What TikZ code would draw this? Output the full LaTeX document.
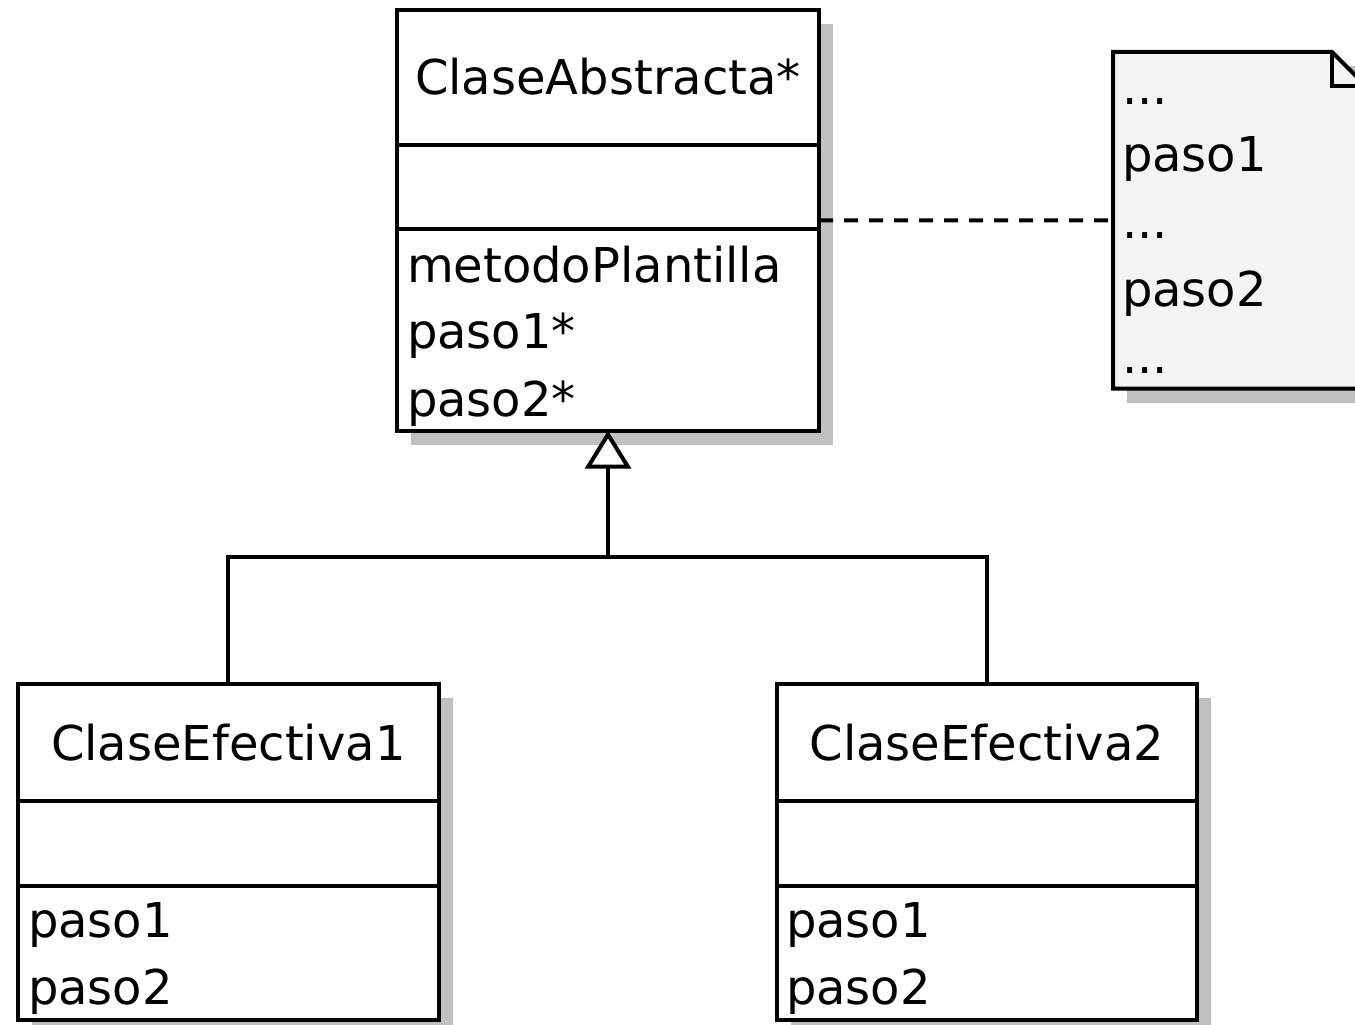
\documentclass[tikz,border=0pt]{standalone}
\usepackage{fontspec}
\setmainfont{DejaVu Sans}
\usetikzlibrary{arrows.meta,shadows}
\definecolor{shadowgray}{HTML}{C0C0C0}
\definecolor{notefill}{HTML}{F4F4F4}
\begin{document}
\begin{tikzpicture}[x=1pt,y=-1pt,
  classbox/.style={draw=black,line width=4pt,fill=white,inner sep=0pt,outer sep=0pt,rectangle,
     drop shadow={shadow xshift=14pt,shadow yshift=-14pt,fill=shadowgray,opacity=1}},
  txt/.style={inner sep=0pt,outer sep=0pt,font=\fontsize{48}{58}\selectfont},
  lbl/.style={txt,anchor=base west},
  ttl/.style={txt,anchor=base},
  divider/.style={line width=4pt},
  conn/.style={line width=4pt},
  noteline/.style={line width=4pt,dash pattern=on 14pt off 11pt},
]
\useasboundingbox (0,0) rectangle (1355,1025);
\clip (0,0) rectangle (1355,1025);

% note
\fill[shadowgray] (1127,66) rectangle (1380,402.5);
\node[inner sep=0pt,outer sep=0pt,minimum width=253pt,minimum height=336.5pt] (note) at (1239.5,220.25) {};
\filldraw[fill=notefill,line width=4pt,line join=miter]
  (note.north west) -- ([xshift=-34pt]note.north east) -- ([yshift=-34pt]note.north east)
  -- (note.south east) -- (note.south west) -- cycle;
\draw[line width=4pt] ([xshift=-34pt]note.north east) |- ([yshift=-34pt]note.north east);

% classes
\node[classbox,minimum width=422pt,minimum height=420.7pt] (abs) at (608,220.35) {};
\draw[divider] ([yshift=-135pt]abs.north west) -- ([yshift=-135pt]abs.north east);
\draw[divider] ([yshift=-218.7pt]abs.north west) -- ([yshift=-218.7pt]abs.north east);

\node[classbox,minimum width=420.7pt,minimum height=336pt] (c1) at (228.35,852) {};
\draw[divider] ([yshift=-116.8pt]c1.north west) -- ([yshift=-116.8pt]c1.north east);
\draw[divider] ([yshift=-201.6pt]c1.north west) -- ([yshift=-201.6pt]c1.north east);

\node[classbox,minimum width=420.3pt,minimum height=336pt] (c2) at (986.85,852) {};
\draw[divider] ([yshift=-116.8pt]c2.north west) -- ([yshift=-116.8pt]c2.north east);
\draw[divider] ([yshift=-201.6pt]c2.north west) -- ([yshift=-201.6pt]c2.north east);

% connectors
\coordinate (j) at (608,557);
\draw[conn] (c1.north) |- (j);
\draw[conn] (c2.north) |- (j);
\draw[conn,-{Triangle[fill=white,length=38pt,width=46pt]}] (j) -- (abs.south);
\draw[noteline] (abs.east) -- (note.west);

% texts
\node[ttl] (absname) at (608,95) {ClaseAbstracta*};
\node[lbl] (absm1) at (407,282) {metodoPlantilla};
\node[lbl] (absm2) at (407,348.7) {paso1*};
\node[lbl] (absm3) at (407,416) {paso2*};

\node[ttl] (c1name) at (228.35,760.7) {ClaseEfectiva1};
\node[lbl] (c1m1) at (28,937) {paso1};
\node[lbl] (c1m2) at (28,1004.5) {paso2};

\node[ttl] (c2name) at (986.85,760.7) {ClaseEfectiva2};
\node[lbl] (c2m1) at (786,937.3) {paso1};
\node[lbl] (c2m2) at (786,1004) {paso2};

\node[lbl] (n1) at (1122,104) {...};
\node[lbl] (n2) at (1122,171.7) {paso1};
\node[lbl] (n3) at (1122,238.5) {...};
\node[lbl] (n4) at (1122,306.7) {paso2};
\node[lbl] (n5) at (1122,373) {...};
\end{tikzpicture}
\end{document}
